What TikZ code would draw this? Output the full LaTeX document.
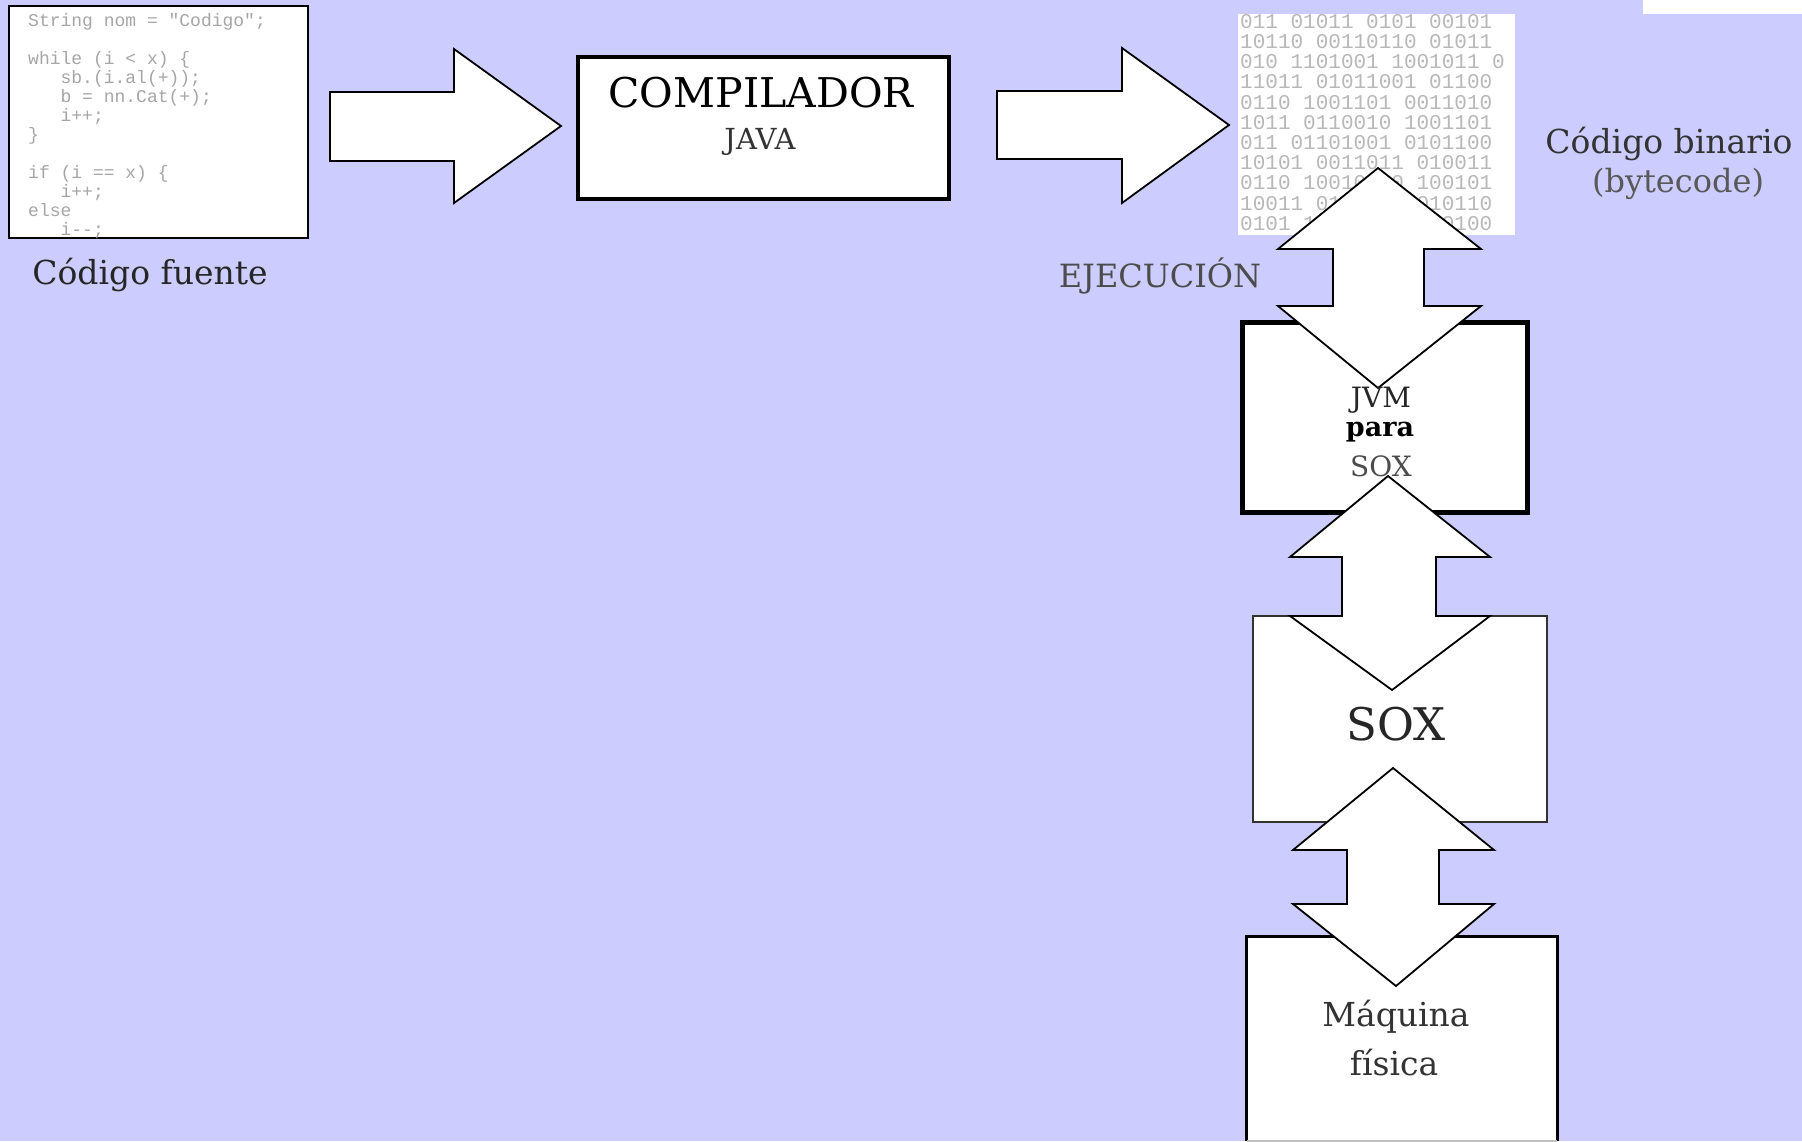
\documentclass[tikz,border=0pt]{standalone}
\usepackage{fontspec}
\setmainfont{DejaVu Serif}
\newfontfamily\codefont{Liberation Mono}
\definecolor{bgblue}{RGB}{204,204,255}
\tikzset{
  blockarrow/.style={draw=black, fill=white, line width=1.8pt, line join=miter},
  boxthick/.style={draw=black, fill=white, line width=3.5pt, inner sep=0pt},
  boxthin/.style={draw=black!80, fill=white, line width=2pt, inner sep=0pt},
  lbl/.style={inner sep=0pt, align=center},
}
\begin{document}
\begin{tikzpicture}[x=1pt,y=-1pt]
\fill[bgblue] (0,0) rectangle (1802,1141);
\useasboundingbox (0,0) rectangle (1802,1141);
\clip (0,0) rectangle (1802,1141);
\fill[white] (1643,0) rectangle (1802,14);

% source code window
\node[draw=black, fill=white, line width=2.5pt, minimum width=299pt, minimum height=232pt, inner sep=0pt] (src) at (158.5,122) {};
\node[anchor=north west, align=left, inner sep=0pt, text=black!35, font=\codefont\fontsize{18}{19}\selectfont] (code) at (28,13)
 {String nom = "Codigo";\\[19pt]
  while (i < x) \{\\
  \ \ \ sb.(i.al(+));\\
  \ \ \ b = nn.Cat(+);\\
  \ \ \ i++;\\
  \}\\[19pt]
  if (i == x) \{\\
  \ \ \ i++;\\
  else\\
  \ \ \ i--;};
\node[lbl, text=black!85, font=\fontsize{33}{38}\selectfont] (srclbl) at (150,275) {Código fuente};

% arrows right
\draw[blockarrow] (330,92) -- (454,92) -- (454,49) -- (561,126) -- (454,203) -- (454,161) -- (330,161) -- cycle;
\node[boxthick, minimum width=371pt, minimum height=142pt] (comp) at (763.5,128) {};
\node[lbl, font=\fontsize{41}{46}\selectfont] (complbl) at (761,93) {COMPILADOR};
\node[lbl, text=black!80, font=\fontsize{29}{34}\selectfont] (java) at (760,142) {JAVA};
\draw[blockarrow] (997,91) -- (1122,91) -- (1122,48) -- (1229,125) -- (1122,203) -- (1122,159) -- (997,159) -- cycle;

% binary image
\node[fill=white, minimum width=277pt, minimum height=221pt, inner sep=0pt] (bin) at (1376.5,124.5) {};
\node[anchor=north west, align=left, inner sep=0pt, text=black!28, font=\codefont\fontsize{21}{20.2}\selectfont] (bits) at (1240,14)
 {011 01011 0101 00101\\
  10110 00110110 01011\\
  010 1101001 1001011 0\\
  11011 01011001 01100\\
  0110 1001101 0011010\\
  1011 0110010 1001101\\
  011 01101001 0101100\\
  10101 0011011 010011\\
  0110 10010110 100101\\
  10011 0101101 010110\\
  0101 10110010 110100};
\node[lbl, text=black!80, font=\fontsize{33}{38}\selectfont] (binlbl) at (1669,144) {Código binario};
\node[lbl, text=black!65, font=\fontsize{32}{36}\selectfont] (bytecode) at (1678,184) {(bytecode)};
\node[lbl, text=black!70, font=\fontsize{32}{36}\selectfont] (ejec) at (1160,276) {EJECUCIÓN};

% boxes of the execution stack
\node[boxthick, line width=5pt, minimum width=285pt, minimum height=190pt] (jvm) at (1384.5,417) {};
\node[boxthin, minimum width=294pt, minimum height=206pt] (sox) at (1400,719) {};
\node[fill=white, inner sep=0pt, minimum width=310pt, minimum height=204pt] (mq) at (1402,1039) {};
\draw[black, line width=3pt] (mq.south west) -- (mq.north west) -- (mq.north east) -- (mq.south east);
\draw[black!25, line width=1.5pt] (mq.south west) -- (mq.south east);

% double arrows
\draw[blockarrow] (1378,168) -- (1481,249) -- (1424,249) -- (1424,306) -- (1481,306) -- (1378,388)
  -- (1278,306) -- (1333,306) -- (1333,249) -- (1278,249) -- cycle;
\draw[blockarrow] (1388,476) -- (1490,557) -- (1436,557) -- (1436,616) -- (1490,616) -- (1392,690)
  -- (1290,616) -- (1342,616) -- (1342,557) -- (1290,557) -- cycle;
\draw[blockarrow] (1393,768) -- (1494,850) -- (1439,850) -- (1439,904) -- (1494,904) -- (1396,986)
  -- (1293,904) -- (1347,904) -- (1347,850) -- (1293,850) -- cycle;

% labels inside the stack
\node[lbl, text=black!85, font=\fontsize{28}{32}\selectfont] (jvm1) at (1381,400) {JVM};
\node[lbl, font=\bfseries\fontsize{27}{32}\selectfont] (jvm2) at (1380,432) {para};
\node[lbl, text=black!70, font=\fontsize{28}{32}\selectfont] (jvm3) at (1381,466) {SOX};
\node[lbl, text=black!85, font=\fontsize{45}{50}\selectfont] (soxlbl) at (1396,724) {SOX};
\node[lbl, text=black!80, font=\fontsize{33}{38}\selectfont] (mq1) at (1396,1017) {Máquina};
\node[lbl, text=black!80, font=\fontsize{33}{38}\selectfont] (mq2) at (1394,1063) {física};
\end{tikzpicture}
\end{document}
